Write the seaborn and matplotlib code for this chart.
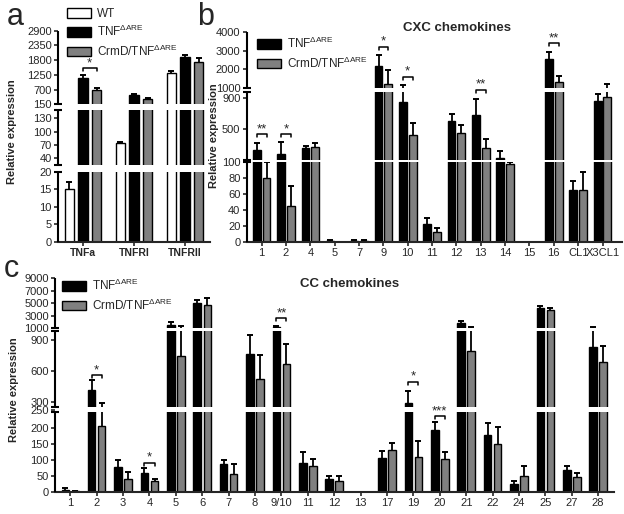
import numpy as np
import pandas as pd
import seaborn as sns
import matplotlib.pyplot as plt
from matplotlib.patches import Patch

sns.set_style('ticks')
plt.rcParams['font.family'] = ['Liberation Sans', 'DejaVu Sans']
plt.rcParams['mathtext.fontset'] = 'custom'
plt.rcParams['mathtext.rm'] = 'Liberation Sans'
plt.rcParams['mathtext.it'] = 'Liberation Sans:italic'
plt.rcParams['mathtext.bf'] = 'Liberation Sans:bold'

WT = 'WT'
TG = r'TNF$^{\mathrm{\Delta ARE}}$'
CRMD = r'CrmD/TNF$^{\mathrm{\Delta ARE}}$'

# ---- panel a: receptors
a_cats = ['TNFa', 'TNFRI', 'TNFRII']
a_wt = [15, 74, 1330]
a_wt_top = [17, 78, 1400]
a_tg = [1120, 497, 1930]
a_tg_top = [1245, 535, 1990]
a_crmd = [684, 348, 1742]
a_crmd_top = [747, 374, 1870]
a_sig = [(0, 1500, '*')]

# ---- panel b: CXC chemokines
b_cats = ['1', '2', '4', '5', '7', '9', '10', '11', '12', '13', '14', '15', '16', 'CL1', 'X3CL1']
b_tg = [229, 178, 259, 1.5, 1.5, 2190, 845, 22, 604, 681, 122, 0, 2530, 65, 862]
b_tg_top = [324, 329, 285, 2.5, 2.5, 2750, 1160, 30, 694, 884, 220, 0, 2940, 76, 952]
b_crmd = [80, 45, 272, 0.5, 1.5, 1230, 423, 12.7, 445, 259, 98, 0, 1300, 65, 917]
b_crmd_top = [100, 70, 316, 0.5, 2.5, 1980, 574, 17.6, 552, 368, 100, 0, 1640, 87, 1200]
b_sig = [(0, 436, '**'), (1, 436, '*'), (5, 3210, '*'), (6, 1600, '*'), (9, 990, '**'), (12, 3390, '**')]

# ---- panel c: CC chemokines
c_cats = ['1', '2', '3', '4', '5', '6', '7', '8', '9/10', '11', '12', '13', '17', '19', '20',
          '21', '22', '24', '25', '27', '28']
c_tg = [5, 410, 77, 60, 1500, 5100, 87, 760, 1200, 91, 40, 0, 107, 290, 194, 1900, 178, 25, 4300, 69, 830]
c_tg_top = [12, 510, 100, 75, 2000, 5600, 100, 950, 1400, 126, 50, 0, 129, 400, 220, 2100, 215, 35, 4500, 81, 1250]
c_crmd = [3, 205, 40, 33, 740, 4800, 55, 520, 670, 81, 34, 0, 131, 110, 103, 790, 150, 51, 3900, 48, 690]
c_crmd_top = [4, 290, 63, 42, 1400, 5800, 87, 754, 860, 103, 50, 0, 154, 159, 126, 1250, 204, 81, 4300, 58, 840]
c_sig = [(1, 560, '*'), (3, 92, '*'), (8, 2650, '**'), (13, 495, '*'), (14, 237, '***')]

W, H = 624, 514
fig = plt.figure(figsize=(W / 100, H / 100), dpi=100)


def box(l, r, t, b):
    return [l / W, 1 - b / H, (r - l) / W, (b - t) / H]


def px(x, y):
    return x / W, 1 - y / H


def draw(ax, cats, names, colors, values, tops, width, gap, vk, yk, yticks, xlim, sig):
    df = pd.DataFrame({
        'cat': np.tile(cats, len(names)),
        'group': np.repeat(names, len(cats)),
        'value': np.concatenate(values),
    })
    sns.barplot(data=df, x='cat', y='value', hue='group', order=cats, hue_order=names,
                palette=colors, width=width, gap=gap, edgecolor='black', linewidth=1,
                errorbar=None, legend=False, ax=ax)
    bars = list(ax.containers)
    # broken axis: piecewise linear scale, knots in pixels
    dk = [yk[0] - y for y in yk]
    fwd = lambda v: np.interp(v, vk, dk)
    inv = lambda d: np.interp(d, dk, vk)
    ax.set_yscale('function', functions=(fwd, inv))

    # upper error bars only
    for cont, top in zip(bars, tops):
        xs, hs, ups = [], [], []
        for p, t in zip(cont, top):
            if t <= 0:
                continue
            xs.append(p.get_x() + p.get_width() / 2)
            hs.append(p.get_height())
            ups.append(t - p.get_height())
        _, caps, _ = ax.errorbar(xs, hs, yerr=[np.zeros(len(hs)), ups], fmt='none',
                                 ecolor='black', elinewidth=1.3, capsize=2.5,
                                 capthick=1.4, zorder=2)
        caps[0].set_visible(False)

    # significance brackets
    c0, c1 = bars[-2], bars[-1]
    for i, y, s in sig:
        x1 = c0[i].get_x() + c0[i].get_width() / 2
        x2 = c1[i].get_x() + c1[i].get_width() / 2
        ylo = inv(fwd(y) - 3)
        ax.plot([x1, x1, x2, x2], [ylo, y, y, ylo], color='black', lw=1.1, zorder=6)
        ax.text((x1 + x2) / 2, inv(fwd(y) - 1), s, ha='center', va='bottom',
                fontsize=9.5, zorder=6)

    # white gaps through the bars + broken spine
    ax.spines[['left', 'top', 'right']].set_visible(False)
    ax.spines['bottom'].set_linewidth(1.5)
    tr = ax.get_yaxis_transform()
    for k in range(0, len(vk), 2):
        ax.plot([0, 0], [vk[k], vk[k + 1]], color='black', lw=1.5, transform=tr,
                clip_on=False, zorder=5, solid_capstyle='butt')
    for k in (1, 3):
        ax.axhspan(vk[k], vk[k + 1], color='white', lw=0, zorder=3)
        ax.plot([0, 0], [vk[k], vk[k + 1]], ls='none', marker='_', ms=6, mew=1.5,
                color='black', transform=tr, clip_on=False, zorder=5)

    ax.set_yticks(yticks)
    ax.set_yticklabels([str(t) for t in yticks])
    ax.set_ylim(vk[0], vk[-1])
    ax.set_xlim(*xlim)
    ax.set_xlabel('')
    ax.set_ylabel('')
    ax.tick_params(axis='both', labelsize=8, length=3, width=1.2, direction='out', pad=1.5)


# panel a
ax_a = fig.add_axes(box(58, 210, 30.7, 242))
draw(ax_a, a_cats, [WT, TG, CRMD], ['white', 'black', '#808080'],
     [a_wt, a_tg, a_crmd], [a_wt_top, a_tg_top, a_crmd_top], 0.8, 0.3,
     [0, 20, 25, 148, 150, 2900], [242, 171.7, 165.1, 110.4, 104.3, 30.7],
     [0, 5, 10, 15, 20, 40, 70, 100, 130, 150, 700, 1250, 1800, 2350, 2900],
     (-0.49, 2.49), a_sig)
for t in ax_a.get_xticklabels():
    t.set_fontweight('bold')
    t.set_fontsize(7.5)

# panel b
ax_b = fig.add_axes(box(246.7, 622, 32, 242))
draw(ax_b, b_cats, [TG, CRMD], ['black', '#808080'],
     [b_tg, b_crmd], [b_tg_top, b_crmd_top], 0.8, 0.2,
     [0, 100, 100.5, 980, 1000, 4000], [242, 162, 160, 91.8, 88, 32],
     [0, 20, 40, 60, 80, 100, 500, 900, 1000, 2000, 3000, 4000],
     (-0.616, 14.8), b_sig)

# panel c
ax_c = fig.add_axes(box(55, 614, 278.3, 492))
draw(ax_c, c_cats, [TG, CRMD], ['black', '#808080'],
     [c_tg, c_crmd], [c_tg_top, c_crmd_top], 0.76, 0.25,
     [0, 249, 251, 990, 1000, 9000], [492, 412.3, 406.7, 330.8, 328.3, 278.3],
     [0, 50, 100, 150, 200, 250, 300, 600, 900, 1000, 3000, 5000, 7000, 9000],
     (-0.58, 20.6), c_sig)


def legend(ax, names, colors, x, y):
    handles = [Patch(facecolor=c, edgecolor='black', linewidth=1) for c in colors]
    ax.legend(handles, names, loc='upper left', bbox_to_anchor=px(x, y),
              bbox_transform=fig.transFigure, frameon=False, borderaxespad=0,
              borderpad=0, handlelength=2.0, handleheight=0.9, labelspacing=0.35,
              handletextpad=0.5, fontsize=8.5)


legend(ax_a, [WT, TG, CRMD], ['white', 'black', '#808080'], 67, 8)
legend(ax_b, [TG, CRMD], ['black', '#808080'], 257, 36)
legend(ax_c, [TG, CRMD], ['black', '#808080'], 62, 278)

for x, y in [(12, 132), (214, 136), (14, 390)]:
    fig.text(*px(x, y), 'Relative expression', rotation=90, ha='center', va='center',
             fontsize=8, fontweight='bold')

fig.text(*px(457, 28), 'CXC chemokines', ha='center', va='center', fontsize=9.5, fontweight='bold')
fig.text(*px(350, 284), 'CC chemokines', ha='center', va='center', fontsize=9.5, fontweight='bold')
for x, y, s in [(7, 25, 'a'), (197, 25, 'b'), (4, 277, 'c')]:
    fig.text(*px(x, y), s, ha='left', va='baseline', fontsize=22)

fig.savefig('out.png', dpi=100)
